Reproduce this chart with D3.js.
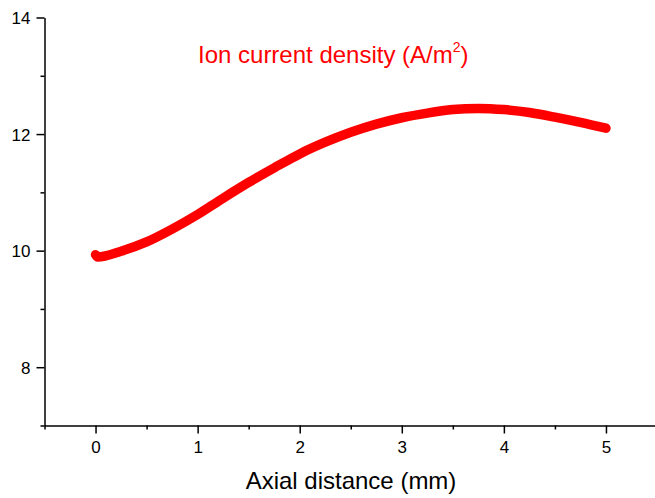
<!DOCTYPE html>
<html><head><meta charset="utf-8">
<script src="https://cdn.jsdelivr.net/npm/d3@7"></script>
<style>body{margin:0;background:#fff}svg{display:block;font-family:Arial,"Liberation Sans",sans-serif}</style>
</head><body>
<svg id="c" width="655" height="498"></svg>
<script>
const xValues = [0, 0.02, 0.25, 0.5, 0.75, 1.0, 1.25, 1.5, 1.75, 2.0, 2.25, 2.5, 2.75, 3.0, 3.25, 3.5, 3.75, 4.0, 4.25, 4.5, 4.75, 5.0];
const yValues = [9.93, 9.89, 9.99, 10.15, 10.37, 10.62, 10.90, 11.17, 11.42, 11.66, 11.86, 12.03, 12.17, 12.28, 12.36, 12.42, 12.44, 12.42, 12.37, 12.29, 12.20, 12.10];
const xTicks = [0, 1, 2, 3, 4, 5];
const xMinor = [-0.5, 0.5, 1.5, 2.5, 3.5, 4.5, 5.5];
const yTicks = [8, 10, 12, 14];
const yMinor = [7, 9, 11, 13];
const seriesName = "Ion current density (A/m";
const xTitle = "Axial distance (mm)";

const svg = d3.select("#c");
const x = d3.scaleLinear().domain([-0.5, 5.5]).range([44.5, 657]);
const y = d3.scaleLinear().domain([7, 14]).range([425.5, 17.5]);

// line
const data = xValues.map((v, i) => [v, yValues[i]]);
svg.append("path").datum(data)
  .attr("fill", "none").attr("stroke", "#ff0000").attr("stroke-width", 9.5)
  .attr("stroke-linecap", "round").attr("stroke-linejoin", "round")
  .attr("d", d3.line().x(d => x(d[0])).y(d => y(d[1])).curve(d3.curveMonotoneX));

// axes
const xAxis = svg.append("g").attr("transform", `translate(0,${y(7)})`)
  .call(d3.axisBottom(x).tickValues(xTicks).tickFormat(d3.format("d")).tickSize(8).tickSizeOuter(0));
svg.append("g").attr("transform", `translate(0,${y(7)})`)
  .call(d3.axisBottom(x).tickValues(xMinor).tickFormat("").tickSize(4).tickSizeOuter(0))
  .select(".domain").remove();
const yAxis = svg.append("g").attr("transform", `translate(${x(-0.5)},0)`)
  .call(d3.axisLeft(y).tickValues(yTicks).tickFormat(d3.format("d")).tickSize(8).tickSizeOuter(0));
svg.append("g").attr("transform", `translate(${x(-0.5)},0)`)
  .call(d3.axisLeft(y).tickValues(yMinor).tickFormat("").tickSize(4).tickSizeOuter(0))
  .select(".domain").remove();

svg.selectAll(".domain, .tick line").attr("stroke", "#000").attr("stroke-width", 1.5);
svg.selectAll("g").attr("font-size", null).attr("font-family", null);
xAxis.selectAll("text").style("font-size", "17px").attr("fill", "#000").attr("y", 11).attr("dy", "0.95em");
yAxis.selectAll("text").style("font-size", "17px").attr("fill", "#000").attr("x", -14).attr("dy", "0.35em");

// x title
svg.append("text").attr("x", 351).attr("y", 489).attr("text-anchor", "middle")
  .style("font-size", "24px").attr("fill", "#000").text(xTitle);

// legend-like label
const t = svg.append("text").attr("x", 198).attr("y", 63).style("font-size", "24px").attr("fill", "#ff0000");
t.append("tspan").text(seriesName);
t.append("tspan").style("font-size", "14px").attr("dy", -11).text("2");
t.append("tspan").attr("dy", 11).text(")");
</script>
</body></html>
